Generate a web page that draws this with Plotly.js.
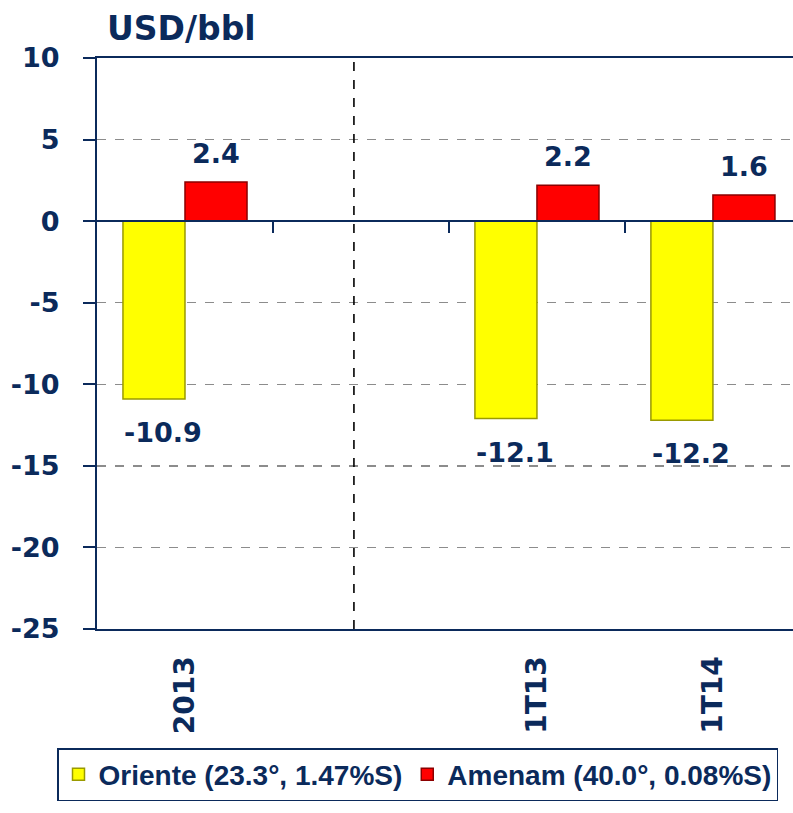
<!DOCTYPE html>
<html>
<head>
<meta charset="utf-8">
<script src="https://cdn.plot.ly/plotly-3.0.1.min.js"></script>
<style>html,body{margin:0;padding:0;background:#fff;}#chart{width:793px;height:813px;}</style>
</head>
<body>
<div id="chart"></div>
<script>
// ---- data ----
const categories = ['2013', '', '1T13', '1T14'];
const xPositions = [0, 1, 2, 3];
const orienteValues = [-10.9, null, -12.1, -12.2];
const amenamValues = [2.4, null, 2.2, 1.6];
const seriesNames = ['Oriente (23.3°, 1.47%S)', 'Amenam (40.0°, 0.08%S)'];
const yTickValues = [-25, -20, -15, -10, -5, 0, 5, 10];
const yTickLabels = ['-25', '-20', '-15', '-10', '-5', '0', '5', '10'];
const unitLabel = 'USD/bbl';
const separatorAt = 0.96; // dashed divider between annual and quarterly data

// ---- style ----
const NAVY = '#0b2a5b';
const FONT = 'DejaVu Sans, Verdana, sans-serif';
const LEGEND_FONT = 'Liberation Sans, Arial, sans-serif';

const tickIdx = categories.map((c, i) => i).filter(i => categories[i] !== '');

const traces = [
  {
    type: 'bar', name: seriesNames[0], x: xPositions, y: orienteValues,
    marker: {color: '#ffff00', line: {color: '#9a9a00', width: 1.5}},
    hoverinfo: 'y'
  },
  {
    type: 'bar', name: seriesNames[1], x: xPositions, y: amenamValues,
    marker: {color: '#ff0000', line: {color: '#8b0000', width: 1.5}},
    hoverinfo: 'y'
  },
  { // carrier for the zero-line axis (no marks)
    type: 'scatter', x: [], y: [], xaxis: 'x2', showlegend: false, hoverinfo: 'skip'
  }
];

const annotations = [];
[orienteValues, amenamValues].forEach((vals, s) => {
  vals.forEach((v, i) => {
    if (v === null) return;
    const neg = v < 0;
    annotations.push({
      x: xPositions[i], y: v, xref: 'x', yref: 'y',
      text: v.toFixed(1), showarrow: false,
      xshift: (s === 0 ? -31 : 31) + (neg ? 9 : 0),
      yshift: neg ? -16 : 11,
      yanchor: neg ? 'top' : 'bottom',
      font: {family: FONT, size: 27, weight: 'bold', color: NAVY}
    });
  });
});

const yMin = yTickValues[0], yMax = yTickValues[yTickValues.length - 1];
const xRange = [-0.5, 3.455];

const layout = {
  width: 793, height: 813,
  margin: {l: 97, r: 0, t: 58, b: 184, autoexpand: false},
  paper_bgcolor: '#ffffff', plot_bgcolor: '#ffffff',
  barmode: 'group', bargap: 0.295, bargroupgap: 0,
  title: {
    text: unitLabel, xref: 'container', yref: 'container',
    x: 107 / 793, xanchor: 'left', y: 1 - 28 / 813, yanchor: 'middle',
    font: {family: FONT, size: 33, weight: 'bold', color: NAVY}
  },
  xaxis: {
    range: xRange, tickmode: 'array',
    tickvals: tickIdx.map(i => xPositions[i]), ticktext: tickIdx.map(i => categories[i]),
    tickangle: -90, ticks: '', ticklabelstandoff: 14,
    showline: true, mirror: true, linecolor: NAVY, linewidth: 2,
    showgrid: false, zeroline: false,
    tickfont: {family: FONT, size: 28, weight: 'bold', color: NAVY}
  },
  xaxis2: {
    overlaying: 'x', anchor: 'free', position: (0 - yMin) / (yMax - yMin),
    range: xRange, tickmode: 'array', tickvals: [0.5, 1.5, 2.5],
    ticks: 'outside', ticklen: 11, tickwidth: 2, tickcolor: NAVY,
    showticklabels: false, showline: true, linecolor: NAVY, linewidth: 2,
    showgrid: false, zeroline: false
  },
  yaxis: {
    range: [yMin, yMax], tickmode: 'array', tickvals: yTickValues, ticktext: yTickLabels,
    ticks: 'outside', ticklen: 12, tickwidth: 2, tickcolor: NAVY,
    ticklabelstandoff: 18,
    showline: true, linecolor: NAVY, linewidth: 2,
    showgrid: true, gridcolor: '#8c8c8c', gridwidth: 1.5, griddash: 'dash',
    zeroline: false,
    tickfont: {family: FONT, size: 27, weight: 'bold', color: NAVY}
  },
  shapes: [{
    type: 'line', xref: 'x', yref: 'paper', x0: separatorAt, x1: separatorAt, y0: 0, y1: 1,
    line: {color: '#000000', width: 1.6, dash: 'dash'}
  }],
  annotations: annotations,
  showlegend: true,
  legend: {
    orientation: 'h', xref: 'paper', yref: 'paper',
    x: (57 - 97) / 696, xanchor: 'left', y: (629 - 748) / 571, yanchor: 'top',
    bordercolor: NAVY, borderwidth: 1.5, bgcolor: '#ffffff',
    font: {family: LEGEND_FONT, size: 28, weight: 'bold', color: NAVY},
    traceorder: 'normal', itemwidth: 30
  }
};

Plotly.newPlot('chart', traces, layout, {displayModeBar: false, staticPlot: true});
</script>
</body>
</html>
